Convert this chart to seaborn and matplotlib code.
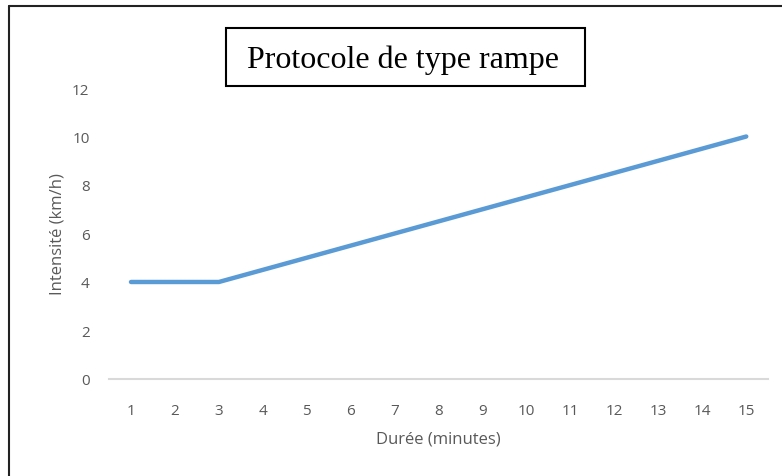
import matplotlib
matplotlib.use("Agg")
import matplotlib.pyplot as plt
from matplotlib.lines import Line2D
from matplotlib.patches import Rectangle
import seaborn as sns
import pandas as pd

# Data
minutes = list(range(1, 16))
intensity = [4, 4, 4, 4.5, 5, 5.5, 6, 6.5, 7, 7.5, 8, 8.5, 9, 9.5, 10]
y_ticks = [0, 2, 4, 6, 8, 10, 12]

title = "Protocole de type rampe"
x_label = "Durée (minutes)"
y_label = "Intensité (km/h)"

sns.set_theme(style="white")
plt.rcParams['font.family'] = ['Open Sans', 'DejaVu Sans']

df = pd.DataFrame({'minute': minutes, 'intensity': intensity})

fig = plt.figure(figsize=(7.82, 4.77), dpi=100)
ax = fig.add_axes([0.1394, 0.2034, 0.843, 0.61])

sns.lineplot(data=df, x='minute', y='intensity', ax=ax,
             color='#5B9BD5', linewidth=3.2, solid_capstyle='round')

ax.set_xlim(0.5, 15.5)
ax.set_ylim(0, 12)
ax.set_xticks(minutes)
ax.set_yticks(y_ticks)
ax.tick_params(axis='both', length=0, labelsize=11, colors='#595959')
ax.tick_params(axis='x', pad=17)
ax.tick_params(axis='y', pad=14)

for side in ['top', 'right', 'left']:
    ax.spines[side].set_visible(False)
ax.spines['bottom'].set_color('#D9D9D9')
ax.spines['bottom'].set_linewidth(1.5)

ax.set_xlabel(x_label, fontsize=12, color='#595959', labelpad=9)
ax.set_ylabel(y_label, fontsize=12, color='#595959', labelpad=5)

# Title box
fig.add_artist(Rectangle((226 / 782, 1 - 87 / 477), 359 / 782, 58 / 477,
                         transform=fig.transFigure, fill=False,
                         edgecolor='black', linewidth=1.5))
fig.text(403 / 782, 1 - 60 / 477, title, ha='center', va='center',
         fontsize=23, family='Liberation Serif', color='black')

# Outer frame (only left and top edges visible)
fig.add_artist(Line2D([9 / 782, 9 / 782], [0, 1 - 7 / 477],
                      transform=fig.transFigure, color='#222222', linewidth=1.5))
fig.add_artist(Line2D([9 / 782, 1], [1 - 7 / 477, 1 - 7 / 477],
                      transform=fig.transFigure, color='#222222', linewidth=1.5))

fig.savefig('out.png', dpi=100)
